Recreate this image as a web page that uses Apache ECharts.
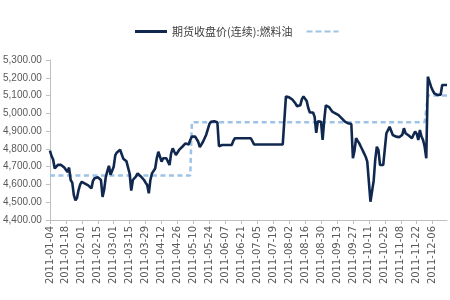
<!DOCTYPE html>
<html><head><meta charset="utf-8">
<script src="https://cdn.jsdelivr.net/npm/echarts@6/dist/echarts.min.js"></script>
<style>html,body{margin:0;padding:0;background:#fff}#c{width:450px;height:300px}</style>
</head><body><div id="c"></div>
<script>
// Series 1: futures closing price (continuous): fuel oil, one value per trading day
const closePrices = [
4790,4760,4740,4690,4700,4710,4720,4710,4700,4695,
4690,4670,4695,4625,4610,4540,4510,4525,4570,4600,
4615,4610,4605,4600,4595,4588,4578,4620,4635,4645,
4640,4630,4625,4530,4570,4640,4675,4705,4655,4650,
4700,4765,4780,4785,4795,4790,4745,4735,4730,4728,
4660,4565,4625,4635,4645,4662,4655,4645,4635,4625,
4610,4597,4550,4625,4662,4672,4690,4747,4784,4775,
4728,4747,4737,4747,4756,4709,4775,4803,4784,4766,
4775,4794,4803,4812,4822,4831,4840,4825,4850,4869,
4878,4870,4860,4840,4810,4820,4840,4860,4880,4910,
4940,4953,4962,4955,4953,4950,4815,4822,4822,4822,
4822,4822,4822,4822,4822,4845,4860,4860,4860,4860,
4860,4860,4860,4860,4860,4860,4860,4860,4825,4825,
4825,4825,4825,4825,4825,4825,4825,4825,4825,4825,
4825,4825,4825,4825,4825,4825,4825,4825,5095,5100,
5090,5094,5078,5068,5055,5040,5030,5045,5080,5095,
5100,5070,5030,5005,5000,5005,4980,4890,4955,4962,
4953,4850,4960,5045,5040,5035,5028,5010,5005,5000,
4995,4990,4980,4972,4965,4953,4950,4944,4944,4940,
4747,4790,4860,4845,4831,4812,4794,4775,4756,4728,
4720,4503,4503,4620,4740,4812,4794,4709,4709,4709,
4712,4888,4905,4925,4934,4878,4875,4869,4868,4866,
4865,4880,4916,4888,4880,4875,4885,4860,4880,4897,
4885,4850,4906,4870,4850,4812,4747,5206,5178,5150,
5130,5112,5105,5103,5105,5105,5159,5159,5159,5159
];
// Series 2 (dashed reference level): level values and the date each level starts
const refLevels = [4650, 4950, 5100];
const refStartDates = ['2011-01-04', '2011-05-09', '2011-12-01'];
// Axis
const firstDate = '2011-01-04';
const yTicks = { min: 4400, max: 5300, step: 100 };
const seriesName = '期货收盘价(连续):燃料油';

// category axis: trading weekdays starting at firstDate, one per value
function fmt(d){const m=d.getUTCMonth()+1, dd=d.getUTCDate();return d.getUTCFullYear()+'-'+(m<10?'0':'')+m+'-'+(dd<10?'0':'')+dd;}
const categories = [];
let d = new Date(firstDate + 'T00:00:00Z');
while (categories.length < closePrices.length) {
  const w = d.getUTCDay();
  if (w !== 0 && w !== 6) categories.push(fmt(d));
  d = new Date(d.getTime() + 86400000);
}
const refSeries = categories.map(c => {
  let v = refLevels[0];
  for (let k = 0; k < refStartDates.length; k++) if (c >= refStartDates[k]) v = refLevels[k];
  return v;
});

const chart = echarts.init(document.getElementById('c'), null, {renderer: 'canvas'});
chart.setOption({
  animation: false,
  backgroundColor: '#ffffff',
  legend: {
    top: 21, left: 130, itemWidth: 32, itemHeight: 10, itemGap: 14,
    textStyle: {fontSize: 11, color: '#404040', fontFamily: 'Noto Sans CJK SC'},
    formatter: n => n === 'ref' ? '' : n,
    data: [
      {name: seriesName, icon: 'path://M0,0 L32,0 L32,3 L0,3 Z'},
      {name: 'ref', icon: 'path://M0,0 L6,0 L6,2 L0,2 Z M9,0 L15,0 L15,2 L9,2 Z M18,0 L24,0 L24,2 L18,2 Z M27,0 L32,0 L32,2 L27,2 Z'}
    ]
  },
  grid: {left: 49, right: 3, top: 60, bottom: 80, containLabel: false},
  xAxis: {
    type: 'category', data: categories, boundaryGap: false,
    axisLine: {lineStyle: {color: '#bfbfbf', width: 1}},
    axisTick: {show: true, interval: 9, length: 4, lineStyle: {color: '#bfbfbf'}},
    axisLabel: {interval: 9, rotate: 90, fontSize: 10, color: '#595959', margin: 6, fontFamily: 'DejaVu Sans'},
    splitLine: {show: false}
  },
  yAxis: {
    type: 'value', min: yTicks.min, max: yTicks.max, interval: yTicks.step,
    axisLine: {show: true, lineStyle: {color: '#bfbfbf', width: 1}},
    axisTick: {show: true, length: 4, lineStyle: {color: '#bfbfbf'}},
    axisLabel: {fontSize: 10, color: '#595959', margin: 8, fontFamily: 'Liberation Sans',
      formatter: v => v.toLocaleString('en-US', {minimumFractionDigits: 2, maximumFractionDigits: 2})},
    splitLine: {show: false}
  },
  series: [
    {name: seriesName, type: 'line', data: closePrices, symbol: 'none',
     lineStyle: {color: '#10284f', width: 2.6}, itemStyle: {color: '#10284f'}, z: 3},
    {name: 'ref', type: 'line', data: refSeries, symbol: 'none',
     lineStyle: {color: '#9dc3e6', width: 2.5, type: [5, 3.5]}, itemStyle: {color: '#9dc3e6'}, z: 2}
  ]
});
</script></body></html>
